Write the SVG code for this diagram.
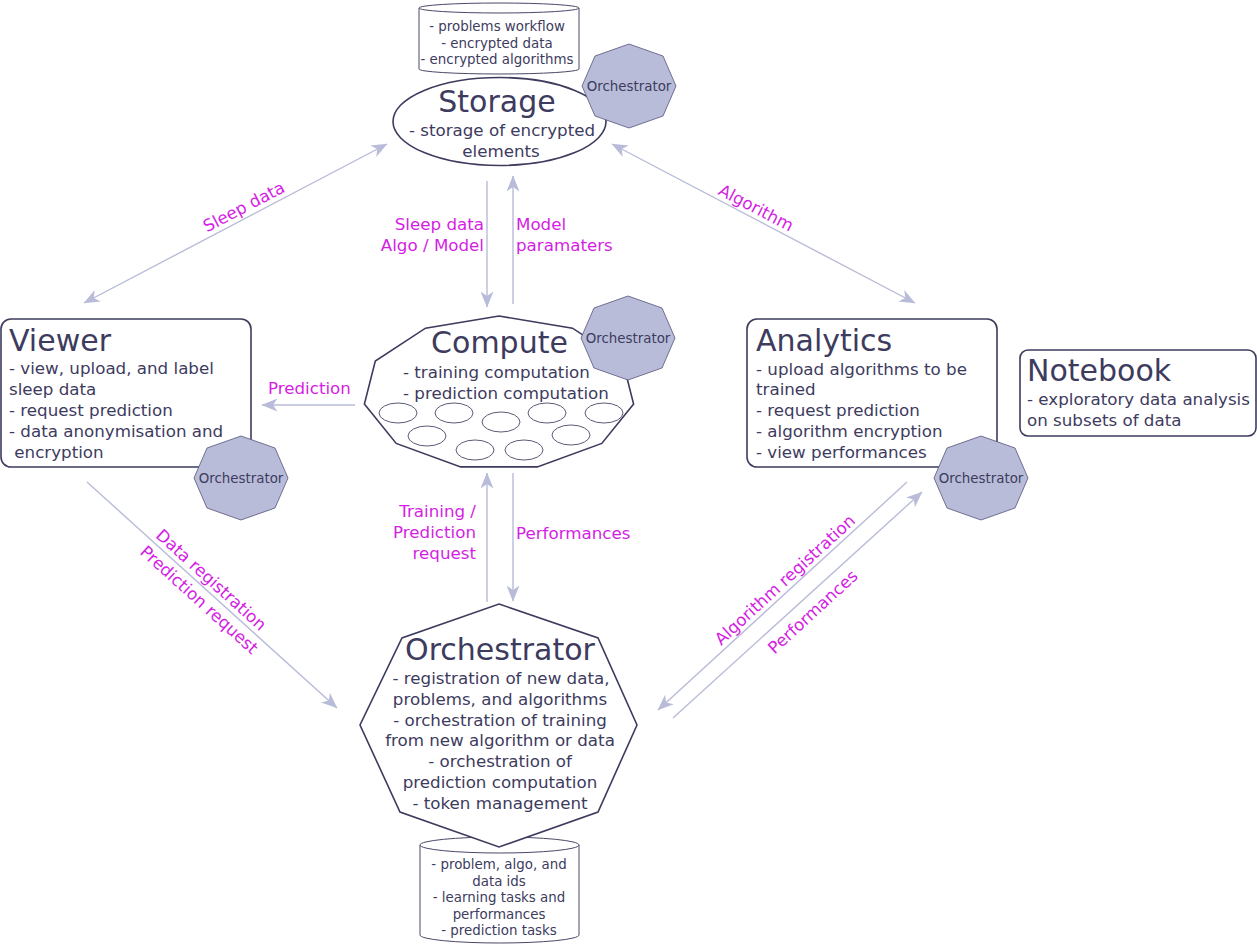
<svg xmlns="http://www.w3.org/2000/svg" xmlns:xlink="http://www.w3.org/1999/xlink" width="1257" height="949" viewBox="0 0 1257 949">
<style>
  text { font-family: "DejaVu Sans", "Liberation Sans", sans-serif; fill: #3d3b5e; }
  .title { font-size: 30px; }
  .body { font-size: 16.7px; }
  .small { font-size: 13.4px; }
  .orl { font-size: 13.4px; text-anchor: middle; }
  .lbl { font-size: 16.7px; fill: #d41ee3; }
  .mid { text-anchor: middle; }
  .end { text-anchor: end; }
  .shape { fill: #ffffff; stroke: #3d3b5e; stroke-width: 1.6; }
  .cyl { fill: #ffffff; stroke: #4a4868; stroke-width: 1; }
  .orch { fill: #b8bcd8; stroke: #55537a; stroke-width: 0.8; }
  .conn { fill: none; stroke: #b8bcd8; stroke-width: 1.4; }
</style>
<defs>
  <marker id="ah" viewBox="0 0 16 13" refX="15.5" refY="6.5" markerWidth="16" markerHeight="13" markerUnits="userSpaceOnUse" orient="auto-start-reverse">
    <path d="M0,0 L16,6.5 L0,13 L4.5,6.5 Z" fill="#b8bcd8"/>
  </marker>
  <polygon id="oct" class="orch" points="0,-42 34,-30 47,0 34,30 0,42 -34,30 -47,0 -34,-30"/>
</defs>

<g id="connectors">
  <line class="conn" x1="84" y1="303" x2="387" y2="144" marker-start="url(#ah)" marker-end="url(#ah)"/>
  <line class="conn" x1="612" y1="144" x2="915" y2="303" marker-start="url(#ah)" marker-end="url(#ah)"/>
  <line class="conn" x1="487" y1="181" x2="487" y2="307" marker-end="url(#ah)"/>
  <line class="conn" x1="513" y1="304" x2="513" y2="176" marker-end="url(#ah)"/>
  <line class="conn" x1="355" y1="405" x2="262" y2="405" marker-end="url(#ah)"/>
  <line class="conn" x1="487" y1="602" x2="487" y2="473" marker-end="url(#ah)"/>
  <line class="conn" x1="513" y1="473" x2="513" y2="601" marker-end="url(#ah)"/>
  <line class="conn" x1="87" y1="482" x2="337" y2="708" marker-end="url(#ah)"/>
  <line class="conn" x1="907" y1="482" x2="658" y2="710" marker-end="url(#ah)"/>
  <line class="conn" x1="673" y1="718" x2="922" y2="492" marker-end="url(#ah)"/>

  <text class="lbl mid" transform="translate(244,207) rotate(-27.7)" y="5.5">Sleep data</text>
  <text class="lbl mid" transform="translate(756,208) rotate(27.7)" y="5.5">Algorithm</text>
  <text class="lbl end" x="484" y="230">Sleep data</text>
  <text class="lbl end" x="484" y="251">Algo / Model</text>
  <text class="lbl" x="516" y="230">Model</text>
  <text class="lbl" x="516" y="251">paramaters</text>
  <text class="lbl" x="268" y="394">Prediction</text>
  <text class="lbl end" x="476" y="517">Training /</text>
  <text class="lbl end" x="476" y="538">Prediction</text>
  <text class="lbl end" x="476" y="559">request</text>
  <text class="lbl" x="516" y="539">Performances</text>
  <text class="lbl mid" transform="translate(211,580) rotate(42.1)" y="5.5">Data registration</text>
  <text class="lbl mid" transform="translate(199,600) rotate(42.1)" y="5.5">Prediction request</text>
  <text class="lbl mid" transform="translate(785,580) rotate(-42.5)" y="5.5">Algorithm registration</text>
  <text class="lbl mid" transform="translate(813,612) rotate(-42.5)" y="5.5">Performances</text>
</g>

<g id="storage-db">
  <path class="cyl" d="M419,8 A80,5 0 0 1 579,8 L579,69 A80,5 0 0 1 419,69 Z"/>
  <path class="cyl" d="M419,8 A80,5 0 0 0 579,8"/>
  <text class="small mid" x="497" y="31">- problems workflow</text>
  <text class="small mid" x="497" y="48">- encrypted data</text>
  <text class="small mid" x="497" y="64">- encrypted algorithms</text>
</g>

<g id="storage">
  <ellipse class="shape" cx="499.5" cy="121.5" rx="106.5" ry="44"/>
  <text class="title mid" x="497" y="112">Storage</text>
  <text class="body mid" x="502" y="136">- storage of encrypted</text>
  <text class="body mid" x="501" y="157">elements</text>
</g>

<g id="storage-orchestrator">
  <use xlink:href="#oct" x="629" y="86"/>
  <text class="orl" x="629" y="90.5">Orchestrator</text>
</g>

<g id="viewer">
  <rect class="shape" x="1" y="319" width="250" height="148" rx="10"/>
  <text class="title" x="9" y="351">Viewer</text>
  <text class="body" x="9" y="374">- view, upload, and label</text>
  <text class="body" x="9" y="395">sleep data</text>
  <text class="body" x="9" y="416">- request prediction</text>
  <text class="body" x="9" y="437">- data anonymisation and</text>
  <text class="body" x="9" y="458" xml:space="preserve"> encryption</text>
</g>

<g id="viewer-orchestrator">
  <use xlink:href="#oct" x="241" y="478"/>
  <text class="orl" x="241" y="482.5">Orchestrator</text>
</g>

<g id="compute">
  <polygon class="shape" points="499,316 572.5,328.2 622.7,361 633.6,404 601.8,443.4 537.3,466.9 460.7,466.9 396.2,443.4 364.4,404 375.3,361 425.5,328.2"/>
  <text class="title mid" x="499.5" y="353">Compute</text>
  <text class="body" x="403" y="378">- training computation</text>
  <text class="body" x="403" y="399">- prediction computation</text>
  <g fill="#ffffff" stroke="#4a4868" stroke-width="0.9">
    <ellipse cx="398" cy="413" rx="19" ry="10"/>
    <ellipse cx="454" cy="413" rx="19" ry="10"/>
    <ellipse cx="501" cy="422" rx="19" ry="10"/>
    <ellipse cx="547" cy="413" rx="19" ry="10"/>
    <ellipse cx="604" cy="413" rx="19" ry="10"/>
    <ellipse cx="427" cy="436" rx="19" ry="10"/>
    <ellipse cx="475" cy="450" rx="19" ry="10"/>
    <ellipse cx="524" cy="450" rx="19" ry="10"/>
    <ellipse cx="571" cy="435" rx="19" ry="10"/>
  </g>
</g>

<g id="compute-orchestrator">
  <use xlink:href="#oct" x="628" y="338"/>
  <text class="orl" x="628" y="342.5">Orchestrator</text>
</g>

<g id="analytics">
  <rect class="shape" x="747" y="319" width="250" height="148" rx="10"/>
  <text class="title" x="756" y="351">Analytics</text>
  <text class="body" x="756" y="375">- upload algorithms to be</text>
  <text class="body" x="756" y="395">trained</text>
  <text class="body" x="756" y="416">- request prediction</text>
  <text class="body" x="756" y="437">- algorithm encryption</text>
  <text class="body" x="756" y="458">- view performances</text>
</g>

<g id="analytics-orchestrator">
  <use xlink:href="#oct" x="981" y="478"/>
  <text class="orl" x="981" y="482.5">Orchestrator</text>
</g>

<g id="notebook">
  <rect class="shape" x="1020" y="350" width="236" height="86" rx="8"/>
  <text class="title" x="1027" y="381">Notebook</text>
  <text class="body" x="1027" y="405">- exploratory data analysis</text>
  <text class="body" x="1027" y="426">on subsets of data</text>
</g>

<g id="orchestrator-db">
  <path class="cyl" d="M420,845 A79.5,8 0 0 1 579,845 L579,935 A79.5,8 0 0 1 420,935 Z"/>
  <path class="cyl" d="M420,845 A79.5,8 0 0 0 579,845"/>
  <text class="small mid" x="499" y="869">- problem, algo, and</text>
  <text class="small mid" x="499" y="886">data ids</text>
  <text class="small mid" x="499" y="902">- learning tasks and</text>
  <text class="small mid" x="499" y="919">performances</text>
  <text class="small mid" x="499" y="935">- prediction tasks</text>
</g>

<g id="orchestrator">
  <polygon class="shape" points="499,604 598,638 637,725 598,812 499,847 400,812 360,725 402,638"/>
  <text class="title mid" x="500" y="660">Orchestrator</text>
  <text class="body mid" x="501" y="684">- registration of new data,</text>
  <text class="body mid" x="500" y="705">problems, and algorithms</text>
  <text class="body mid" x="500" y="726">- orchestration of training</text>
  <text class="body mid" x="500" y="746">from new algorithm or data</text>
  <text class="body mid" x="500" y="767">- orchestration of</text>
  <text class="body mid" x="500" y="788">prediction computation</text>
  <text class="body mid" x="500" y="809">- token management</text>
</g>
</svg>
